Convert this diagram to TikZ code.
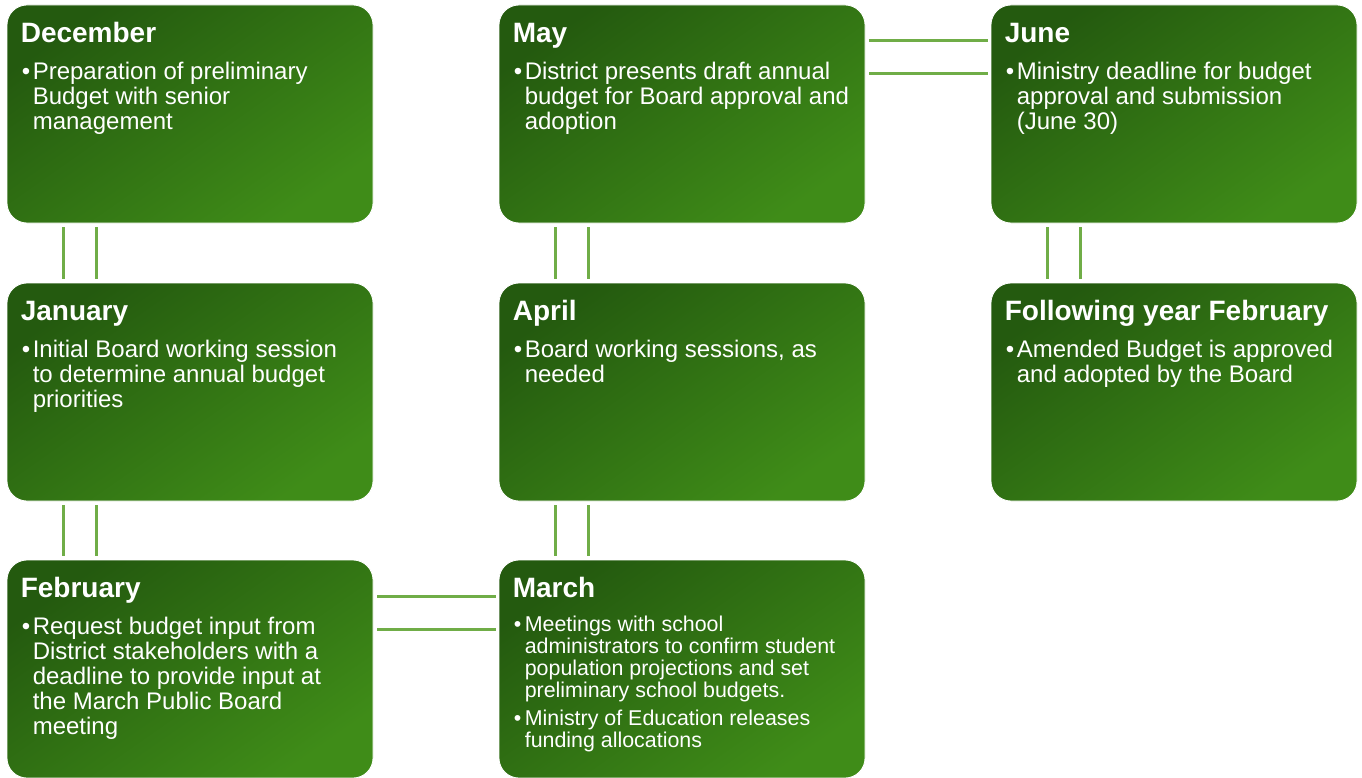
\documentclass[tikz,border=0pt]{standalone}
\usepackage{fontspec}
\setmainfont{Liberation Sans}
\definecolor{gdark}{HTML}{245A0F}
\definecolor{glight}{HTML}{3F8C18}
\definecolor{linkc}{HTML}{70AD47}
\newcommand{\bl}{\makebox[11pt][l]{•}}
\tikzset{
 box/.style={rectangle, rounded corners=20pt, minimum width=366pt, minimum height=218pt, draw=white, line width=0.8pt, top color=gdark, bottom color=glight, shading angle=35, inner sep=0pt},
 ttl/.style={anchor=base west, text=white, font=\fontsize{28}{30}\selectfont\bfseries, inner sep=0pt},
 body/.style={anchor=base west, text=white, font=\fontsize{24}{25}\selectfont, inner sep=0pt},
 smallbody/.style={anchor=base west, text=white, font=\fontsize{21.4}{22}\selectfont, inner sep=0pt},
 linkline/.style={draw=linkc, line width=3.5pt},
}
\begin{document}
\begin{tikzpicture}[x=1pt,y=-1pt]
\useasboundingbox (0,0) rectangle (1362,778);
% boxes
\node[box] (dec) at (190,114) {};
\node[box] (jan) at (190,392) {};
\node[box] (feb) at (190,669) {};
\node[box] (may) at (682,114) {};
\node[box] (apr) at (682,392) {};
\node[box] (mar) at (682,669) {};
\node[box] (jun) at (1174,114) {};
\node[box] (fyf) at (1174,392) {};
% titles
\node[ttl] (decT) at ([shift={(14pt,-38pt)}]dec.north west) {December};
\node[ttl] (janT) at ([shift={(14pt,-38pt)}]jan.north west) {January};
\node[ttl] (febT) at ([shift={(14pt,-38pt)}]feb.north west) {February};
\node[ttl] (mayT) at ([shift={(14pt,-38pt)}]may.north west) {May};
\node[ttl] (aprT) at ([shift={(14pt,-38pt)}]apr.north west) {April};
\node[ttl] (marT) at ([shift={(14pt,-38pt)}]mar.north west) {March};
\node[ttl] (junT) at ([shift={(14pt,-38pt)}]jun.north west) {June};
\node[ttl] (fyfT) at ([shift={(14pt,-38pt)}]fyf.north west) {Following year February};
% bodies
\node[body] (decB) at ([shift={(15pt,-75pt)}]dec.north west) {\begin{tabular}[t]{@{}l@{}l@{}}
\bl&Preparation of preliminary\\
&Budget with senior\\
&management\end{tabular}};
\node[body] (janB) at ([shift={(15pt,-75pt)}]jan.north west) {\begin{tabular}[t]{@{}l@{}l@{}}
\bl&Initial Board working session\\
&to determine annual budget\\
&priorities\end{tabular}};
\node[body] (febB) at ([shift={(15pt,-75pt)}]feb.north west) {\begin{tabular}[t]{@{}l@{}l@{}}
\bl&Request budget input from\\
&District stakeholders with a\\
&deadline to provide input at\\
&the March Public Board\\
&meeting\end{tabular}};
\node[body] (mayB) at ([shift={(15pt,-75pt)}]may.north west) {\begin{tabular}[t]{@{}l@{}l@{}}
\bl&District presents draft annual\\
&budget for Board approval and\\
&adoption\end{tabular}};
\node[body] (aprB) at ([shift={(15pt,-75pt)}]apr.north west) {\begin{tabular}[t]{@{}l@{}l@{}}
\bl&Board working sessions, as\\
&needed\end{tabular}};
\node[smallbody] (marB) at ([shift={(15pt,-72pt)}]mar.north west) {\begin{tabular}[t]{@{}l@{}l@{}}
\bl&Meetings with school\\
&administrators to confirm student\\
&population projections and set\\
&preliminary school budgets.\\[5pt]
\bl&Ministry of Education releases\\
&funding allocations\end{tabular}};
\node[body] (junB) at ([shift={(15pt,-75pt)}]jun.north west) {\begin{tabular}[t]{@{}l@{}l@{}}
\bl&Ministry deadline for budget\\
&approval and submission\\
&(June 30)\end{tabular}};
\node[body] (fyfB) at ([shift={(15pt,-75pt)}]fyf.north west) {\begin{tabular}[t]{@{}l@{}l@{}}
\bl&Amended Budget is approved\\
&and adopted by the Board\end{tabular}};
% vertical double links
\foreach \a/\b in {dec/jan, jan/feb, may/apr, apr/mar, jun/fyf}{
  \draw[linkline] ([shift={(57pt,-4pt)}]\a.south west) -- ([shift={(57pt,4pt)}]\b.north west);
  \draw[linkline] ([shift={(90pt,-4pt)}]\a.south west) -- ([shift={(90pt,4pt)}]\b.north west);
}
% horizontal double links
\draw[linkline] ([shift={(4pt,-37pt)}]feb.north east) -- ([shift={(-3pt,-37pt)}]mar.north west);
\draw[linkline] ([shift={(4pt,-70pt)}]feb.north east) -- ([shift={(-3pt,-70pt)}]mar.north west);
\draw[linkline] ([shift={(4pt,-36pt)}]may.north east) -- ([shift={(-3pt,-36pt)}]jun.north west);
\draw[linkline] ([shift={(4pt,-69pt)}]may.north east) -- ([shift={(-3pt,-69pt)}]jun.north west);
\end{tikzpicture}
\end{document}
